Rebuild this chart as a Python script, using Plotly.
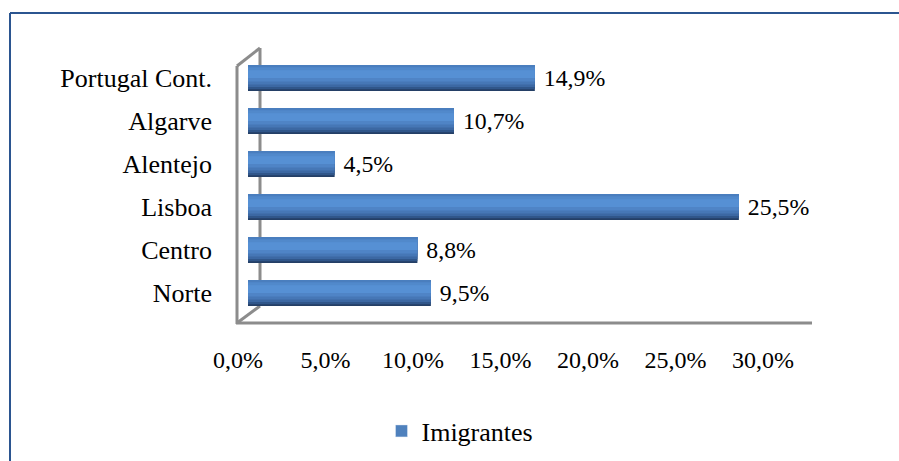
import plotly.graph_objects as go

categories = ["Norte", "Centro", "Lisboa", "Alentejo", "Algarve", "Portugal Cont."]
values = [9.5, 8.8, 25.5, 4.5, 10.7, 14.9]
series_name = "Imigrantes"
tick_vals = [0, 5, 10, 15, 20, 25, 30]
tick_text = ["0,0%", "5,0%", "10,0%", "15,0%", "20,0%", "25,0%", "30,0%"]

FONT = "Liberation Serif"
FS_CAT = 26
FS_TICK = 24
FS_LAB = 24
FS_LEG = 26

fig = go.Figure()

bands = [
    (-0.30, "#243F66"),
    (-0.26, "#30568A"),
    (-0.21, "#3C68A3"),
    (-0.15, "#4677B6"),
    (-0.08, "#4F84C6"),
    (0.00, "#5690D4"),
    (0.18, "#5189CB"),
    (0.25, "#4A7EBE"),
]
top = 0.30
for i, (b0, col) in enumerate(bands):
    fig.add_trace(go.Bar(
        y=categories, x=values, orientation="h", name=series_name,
        width=top - b0, offset=b0,
        marker=dict(color=col, line=dict(width=0)),
        texttemplate="\u00a0%{x:.1f}%" if i == 0 else None,
        textposition="outside" if i == 0 else "none",
        cliponaxis=False,
        textfont=dict(family=FONT, size=FS_LAB, color="black"),
        showlegend=False, hoverinfo="skip",
    ))
fig.add_trace(go.Bar(
    y=[None], x=[None], orientation="h", name=series_name,
    marker=dict(color="#4F81BD"), showlegend=True,
))

W, H = 899, 461
L, R, T, B = 237, 812, 48, 323
pw, ph = R - L, B - T

def fx(px):
    return (px - L) / pw

def fy(py):
    return (B - py) / ph

gray = "#8C8C8C"
def wall(x0, y0, x1, y1):
    return dict(type="line", xref="paper", yref="paper", layer="below",
                x0=fx(x0), y0=fy(y0), x1=fx(x1), y1=fy(y1), line=dict(color=gray, width=3))

shapes = [
    wall(237, 324, 237, 66),
    wall(237, 66, 260, 48),
    wall(260, 48, 260, 306),
    wall(260, 306, 237, 323),
    wall(236, 323, 812, 323),
    dict(type="line", xref="paper", yref="paper", x0=fx(10), y0=fy(13), x1=fx(905), y1=fy(13), line=dict(color="#2B5590", width=2)),
    dict(type="line", xref="paper", yref="paper", x0=fx(10), y0=fy(13), x1=fx(10), y1=fy(470), line=dict(color="#2B5590", width=2)),
]

zero_px, px_per = 248, 19.25

fig.update_layout(
    width=W, height=H,
    margin=dict(l=L, r=W - R, t=T, b=H - B, autoexpand=False),
    paper_bgcolor="white", plot_bgcolor="rgba(0,0,0,0)",
    barmode="overlay",
    separators=",.",
    font=dict(family=FONT, size=FS_TICK, color="black"),
    shapes=shapes,
    showlegend=True,
    legend=dict(orientation="h", x=fx(460), y=fy(431), xanchor="center", yanchor="middle",
                font=dict(family=FONT, size=FS_LEG, color="black"), itemwidth=30),
    xaxis=dict(domain=[fx(zero_px), 1], range=[0, (R - zero_px) / px_per], showgrid=False, zeroline=False,
               showticklabels=False, showline=False, fixedrange=True, automargin=False, anchor="y"),
    xaxis2=dict(domain=[fx(238), fx(763)], range=[0, 30], anchor="y", side="bottom",
                tickvals=tick_vals, ticktext=tick_text, showgrid=False, zeroline=False,
                showline=False, ticks="", ticklabelstandoff=20, automargin=False,
                tickfont=dict(family=FONT, size=FS_TICK, color="black")),
    yaxis=dict(range=[-0.698, 5.698], showgrid=False, zeroline=False, showline=False, ticks="",
               ticklabelstandoff=35, automargin=False, anchor="x",
               tickfont=dict(family=FONT, size=FS_CAT, color="black")),
)
fig.add_trace(go.Scatter(x=[0, 30], y=["Norte", "Norte"], xaxis="x2", yaxis="y", mode="markers",
                         marker=dict(opacity=0), showlegend=False, hoverinfo="skip"))

fig.write_html("out.html", config={"displayModeBar": False},
               post_script="document.body.style.margin='0';document.body.style.padding='0';")
